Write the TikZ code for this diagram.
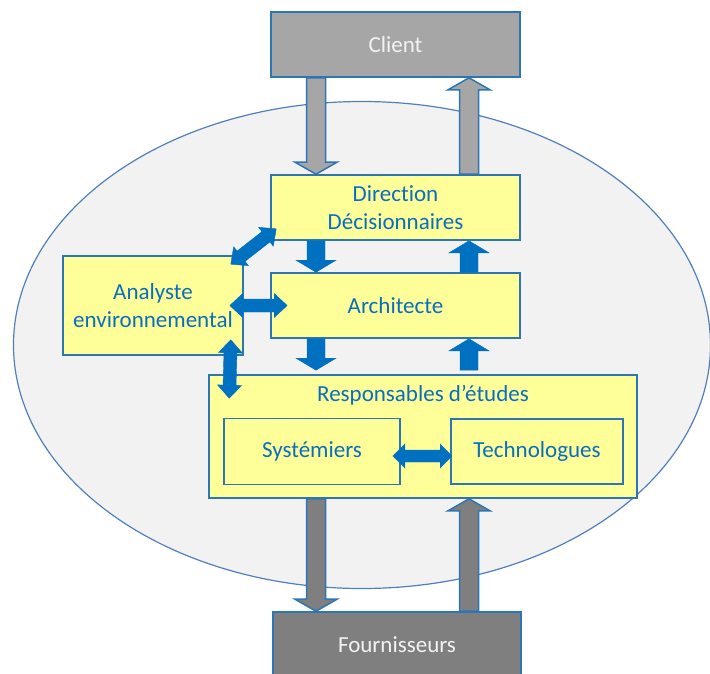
\documentclass[tikz,border=0pt]{standalone}
\usepackage{fontspec}
\setmainfont{Carlito}[Ligatures=NoCommon]
\usetikzlibrary{calc}

\definecolor{boxyellow}{HTML}{FFFF99}
\definecolor{boxblue}{HTML}{2E75B6}
\definecolor{arrblue}{HTML}{0070C0}
\definecolor{txtblue}{HTML}{0A6EC0}
\definecolor{clientgray}{HTML}{A6A6A6}
\definecolor{fourngray}{HTML}{7F7F7F}
\definecolor{ellfill}{HTML}{F2F2F2}
\definecolor{ellline}{HTML}{4F7FC0}

% block arrow: [style]{from}{to}{shaft half}{head half}{head length}
\newcommand{\onearrow}[6][]{%
  \coordinate (oa-b) at ($(#3)!#6!(#2)$);
  \filldraw[#1] ($(#2)!#4!90:(#3)$) -- ($(oa-b)!#4!90:(#3)$) -- ($(oa-b)!#5!90:(#3)$) -- (#3)
    -- ($(oa-b)!#5!-90:(#3)$) -- ($(oa-b)!#4!-90:(#3)$) -- ($(#2)!#4!-90:(#3)$) -- cycle;
}
% double block arrow, same arguments
\newcommand{\twoarrow}[6][]{%
  \coordinate (ta-a) at ($(#2)!#6!(#3)$);
  \coordinate (ta-b) at ($(#3)!#6!(#2)$);
  \filldraw[#1] (#2) -- ($(ta-a)!#5!90:(#3)$) -- ($(ta-a)!#4!90:(#3)$) -- ($(ta-b)!#4!90:(#3)$)
    -- ($(ta-b)!#5!90:(#3)$) -- (#3) -- ($(ta-b)!#5!-90:(#3)$) -- ($(ta-b)!#4!-90:(#3)$)
    -- ($(ta-a)!#4!-90:(#3)$) -- ($(ta-a)!#5!-90:(#3)$) -- cycle;
}

\tikzset{
  box/.style={draw=boxblue, line width=1.6pt, fill=boxyellow, inner sep=0pt, align=center,
    text=txtblue, font=\fontsize{23}{28}\selectfont},
  lbl/.style={text=txtblue, font=\fontsize{23}{28}\selectfont, inner sep=0pt},
  outer/.style={box, text=ellfill},
  grayarrow/.style={draw=boxblue, line width=1.5pt, line join=miter},
  bluearrow/.style={fill=arrblue, draw=arrblue, line width=0.4pt}
}

\begin{document}
\begin{tikzpicture}[x=1pt, y=-1pt]
  \useasboundingbox (0,0) rectangle (710,673);

  % company ellipse
  \draw[ellline, line width=1.2pt, fill=ellfill] (362,345) ellipse (348.5 and 243.5);

  % outside partners
  \node[outer, fill=clientgray, minimum width=249pt, minimum height=65pt] (client) at (395.5,44.5) {Client};
  \node[outer, fill=fourngray, minimum width=248pt, minimum height=65pt] (fourn) at (397,644.5) {Fournisseurs};

  % inside roles
  \node[box, minimum width=249pt, minimum height=65pt] (direction) at (395.5,207.5) {Direction\\Décisionnaires};
  \node[box, minimum width=249pt, minimum height=65pt] (architecte) at (395.5,305.5) {Architecte};
  \node[box, minimum width=180pt, minimum height=99pt] (analyste) at (153,305.5) {Analyste\\environnemental};
  \node[box, minimum width=428pt, minimum height=123pt] (resp) at (423,436.5) {};
  \node[lbl, anchor=base] (resptitle) at ($(resp.north)+(0,27)$) {Responsables d’études};
  \node[box, minimum width=176pt, minimum height=66pt] (sys) at (312,451.5) {Systémiers};
  \node[box, minimum width=172pt, minimum height=65pt] (tech) at (537,451.5) {Technologues};

  % arrow columns
  \coordinate (dn) at (316,0);
  \coordinate (up) at (469,0);

  % exchanges with client and suppliers
  \coordinate (c-dn) at (client.south -| dn);
  \coordinate (c-up) at (client.south -| up);
  \coordinate (d-dn) at (direction.north -| dn);
  \coordinate (d-up) at (direction.north -| up);
  \coordinate (r-dn) at (resp.south -| dn);
  \coordinate (r-up) at (resp.south -| up);
  \coordinate (f-dn) at (fourn.north -| dn);
  \coordinate (f-up) at (fourn.north -| up);
  \onearrow[grayarrow, fill=clientgray]{c-dn}{d-dn}{9.5pt}{21pt}{12pt}
  \onearrow[grayarrow, fill=clientgray]{d-up}{c-up}{9.5pt}{21pt}{12pt}
  \onearrow[grayarrow, fill=fourngray]{r-dn}{f-dn}{9.5pt}{21pt}{12pt}
  \onearrow[grayarrow, fill=fourngray]{f-up}{r-up}{9.5pt}{21pt}{12pt}

  % internal hierarchy
  \coordinate (ds-dn) at (direction.south -| dn);
  \coordinate (ds-up) at (direction.south -| up);
  \coordinate (an-dn) at (architecte.north -| dn);
  \coordinate (an-up) at (architecte.north -| up);
  \coordinate (as-dn) at (architecte.south -| dn);
  \coordinate (as-up) at (architecte.south -| up);
  \coordinate (rn-dn) at ($(resp.north -| dn)+(0,-4)$);
  \coordinate (rn-up) at ($(resp.north -| up)+(0,-4)$);
  \onearrow[bluearrow]{ds-dn}{an-dn}{9pt}{20pt}{12pt}
  \onearrow[bluearrow]{an-up}{ds-up}{9pt}{20pt}{12pt}
  \onearrow[bluearrow]{as-dn}{rn-dn}{9pt}{20pt}{12pt}
  \onearrow[bluearrow]{rn-up}{as-up}{9pt}{20pt}{12pt}

  % analyste links
  \coordinate (ae) at ($(analyste.east)+(-14,0)$);
  \coordinate (aw) at ($(architecte.west)+(17,0)$);
  \coordinate (ane) at ($(analyste.north east)+(-13,9)$);
  \coordinate (dsw) at ($(direction.south west)+(6,-12)$);
  \coordinate (ase) at ($(analyste.south east)+(-13,-16)$);
  \coordinate (rnw) at ($(resp.north west)+(21,24)$);
  \twoarrow[bluearrow]{ae}{aw}{6.5pt}{12pt}{13pt}
  \twoarrow[bluearrow]{ane}{dsw}{6.5pt}{12pt}{13pt}
  \twoarrow[bluearrow]{ase}{rnw}{6.5pt}{12pt}{13pt}

  % inside the study team
  \coordinate (se) at ($(sys.east)+(-8,4.5)$);
  \coordinate (tw) at ($(tech.west)+(2,4.5)$);
  \twoarrow[bluearrow]{se}{tw}{6pt}{12pt}{12pt}
\end{tikzpicture}
\end{document}
